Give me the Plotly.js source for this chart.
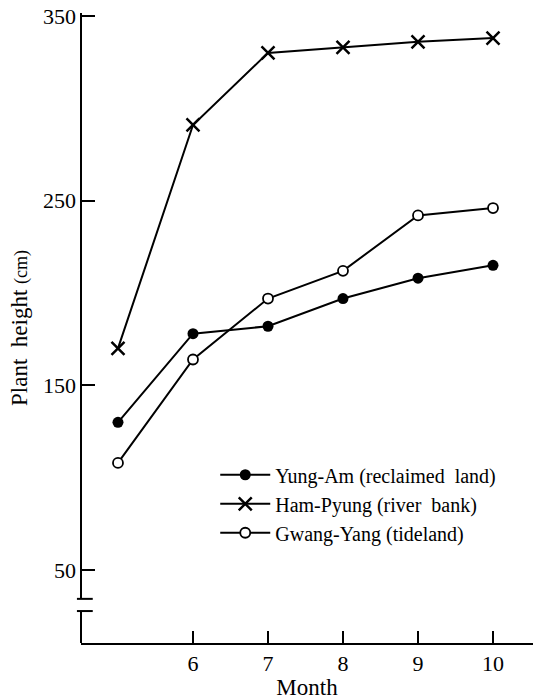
<!DOCTYPE html>
<html>
<head>
<meta charset="utf-8">
<script src="https://cdn.plot.ly/plotly-3.0.1.min.js"></script>
<style>html,body{margin:0;padding:0;background:#fff;}#chart{width:534px;height:700px;}</style>
</head>
<body>
<div id="chart"></div>
<script>
var months = [5, 6, 7, 8, 9, 10];
var tickVals = [6, 7, 8, 9, 10];
var tickText = ['6', '7', '8', '9', '10'];
var yTickVals = [50, 150, 250, 350];
var yungAm = [130, 178, 182, 197, 208, 215];
var hamPyung = [170, 291, 330, 333, 336, 338];
var gwangYang = [108, 164, 197, 212, 242, 246];
var names = ['Yung-Am (reclaimed  land)', 'Ham-Pyung (river  bank)', 'Gwang-Yang (tideland)'];

var font = "'Liberation Serif', 'DejaVu Serif', serif";
var lineW = 2;

var traces = [
  {x: months, y: yungAm, name: names[0], mode: 'lines+markers',
   line: {color: '#000', width: lineW},
   marker: {symbol: 'circle', size: 11, color: '#000'}},
  {x: months, y: hamPyung, name: names[1], mode: 'lines+markers',
   line: {color: '#000', width: lineW},
   marker: {symbol: 'x-thin-open', size: 13, color: '#000', line: {width: 2.5, color: '#000'}}},
  {x: months, y: gwangYang, name: names[2], mode: 'lines+markers',
   line: {color: '#000', width: lineW},
   marker: {symbol: 'circle', size: 10, color: '#fff', line: {width: 1.8, color: '#000'}}}
];

var layout = {
  width: 534, height: 700,
  margin: {l: 81, r: 1, t: 13, b: 57},
  paper_bgcolor: '#fff', plot_bgcolor: '#fff',
  font: {family: font, color: '#000', size: 22},
  showlegend: true,
  legend: {x: 0.297, y: 0.298, xanchor: 'left', yanchor: 'top',
           font: {family: font, size: 20, color: '#000'},
           bgcolor: 'rgba(0,0,0,0)', itemwidth: 50, tracegroupgap: 0},
  xaxis: {range: [4.507, 10.533], tickvals: tickVals, ticktext: tickText,
          ticks: 'inside', ticklen: 12, tickwidth: 2, tickcolor: '#000',
          showline: true, linecolor: '#000', linewidth: 2,
          showgrid: false, zeroline: false,
          tickfont: {family: font, size: 22},
          title: {text: 'Month', font: {family: font, size: 23}, standoff: 8}},
  yaxis: {range: [10.5, 351.6], tickvals: yTickVals,
          ticks: 'inside', ticklen: 14, tickwidth: 2, tickcolor: '#000',
          showline: false, showgrid: false, zeroline: false, ticklabelstandoff: 4,
          tickfont: {family: font, size: 22},
          title: {text: 'Plant  height <span style="font-size:18px">(cm)</span>', font: {family: font, size: 23}, standoff: 8}},
  shapes: [
    {type: 'line', xref: 'paper', yref: 'y', x0: 0, x1: 0, y0: 351.6, y1: 34.4, line: {color: '#000', width: 2}},
    {type: 'line', xref: 'paper', yref: 'y', x0: 0, x1: 0, y0: 27.8, y1: 10.5, line: {color: '#000', width: 2}},
    {type: 'line', xref: 'paper', yref: 'y', x0: -0.009, x1: 0.026, y0: 34.4, y1: 34.4, line: {color: '#000', width: 2}},
    {type: 'line', xref: 'paper', yref: 'y', x0: -0.009, x1: 0.026, y0: 27.8, y1: 27.8, line: {color: '#000', width: 2}}
  ]
};

Plotly.newPlot('chart', traces, layout, {displayModeBar: false, staticPlot: true});
</script>
</body>
</html>
